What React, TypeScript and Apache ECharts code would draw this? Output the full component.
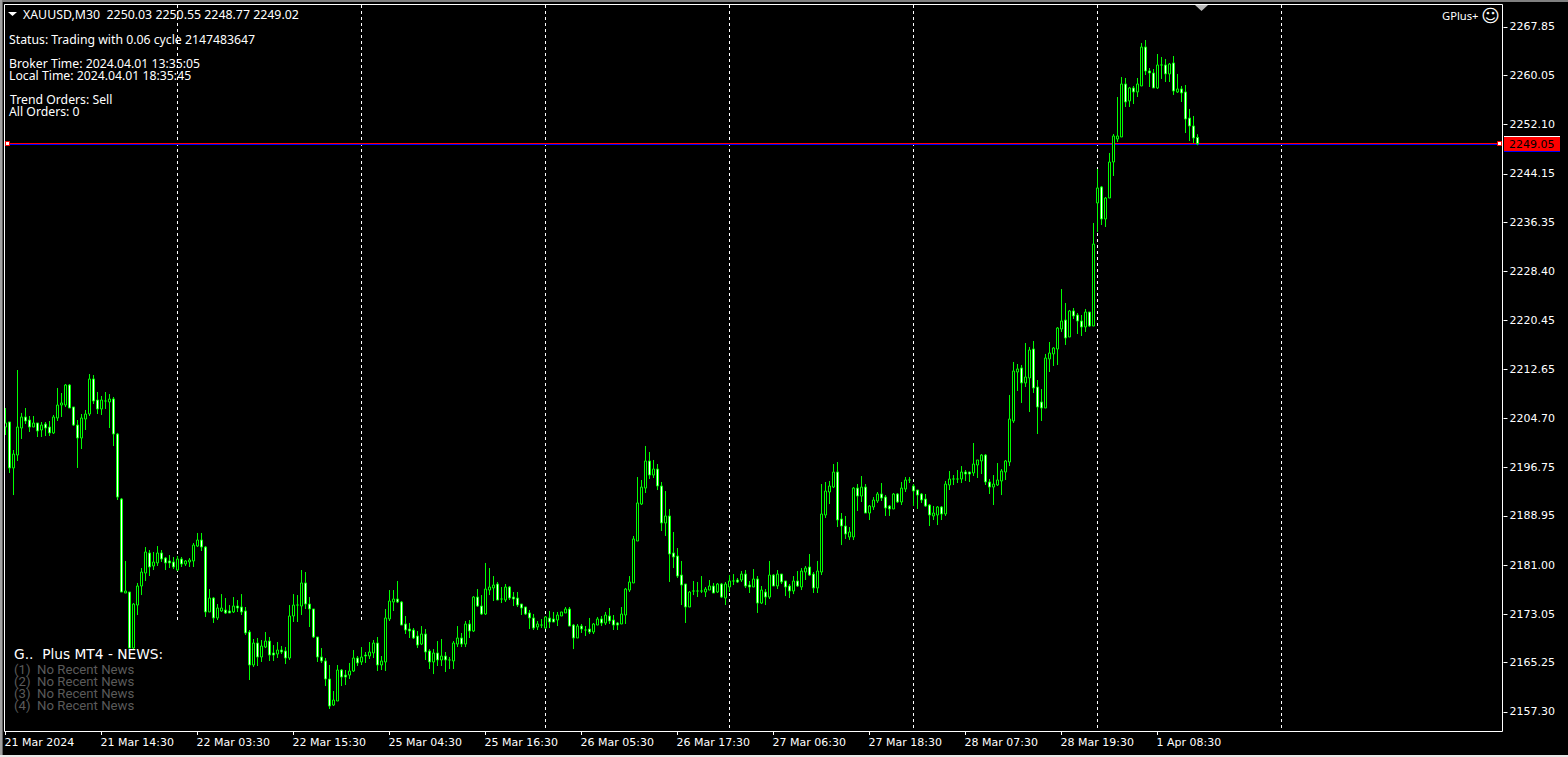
import React, { useEffect, useRef } from "react";
import * as echarts from "echarts";

const timeLabels = ["21 Mar 2024","21 Mar 14:30","22 Mar 03:30","22 Mar 15:30","25 Mar 04:30","25 Mar 16:30","26 Mar 05:30","26 Mar 17:30","27 Mar 06:30","27 Mar 18:30","28 Mar 07:30","28 Mar 19:30","1 Apr 08:30"];
const priceTicks = [2267.85,2260.05,2252.10,2244.15,2236.35,2228.40,2220.45,2212.65,2204.70,2196.75,2188.95,2181.00,2173.05,2165.25,2157.30];
const separatorBars = [43,89,135,181,227,273,319];
const shortSeparatorBars = [43,89];
const bidPrice = 2249.05;
const linePrice = 2248.89;
const newsLines = ["(1)  No Recent News","(2)  No Recent News","(3)  No Recent News","(4)  No Recent News"];
const infoLines = [
  { t: "Status: Trading with 0.06 cycle 2147483647", x: 9, y: 39 },
  { t: "Broker Time: 2024.04.01 13:35:05", x: 9, y: 63 },
  { t: "Local Time: 2024.04.01 18:35:45", x: 9, y: 75 },
  { t: "Trend Orders: Sell", x: 10, y: 99 },
  { t: "All Orders: 0", x: 9, y: 111 },
];

// [open, close, low, high]
const candles = [
[2203.29,2203.94,2202.00,2206.36],[2204.10,2196.68,2195.87,2204.10],[2196.68,2198.93,2192.31,2199.58],[2198.77,2203.29,2197.81,2212.49],[2203.13,2204.91,2201.36,2205.56],[2204.91,2204.26,2203.77,2206.36],[2204.42,2203.29,2202.49,2205.07],[2203.29,2203.94,2203.29,2205.07],[2203.94,2202.65,2201.68,2203.94],[2202.81,2203.61,2201.68,2204.10],
[2203.77,2203.13,2201.84,2204.10],[2203.29,2202.33,2201.84,2204.26],[2202.33,2204.91,2202.16,2205.23],[2204.75,2206.84,2204.26,2209.59],[2206.84,2207.17,2204.91,2208.78],[2206.84,2210.07,2206.52,2210.23],[2210.07,2206.36,2206.36,2210.23],[2206.52,2203.61,2203.45,2206.52],[2203.61,2201.52,2196.68,2204.42],[2201.52,2204.75,2199.74,2205.39],
[2204.58,2205.39,2202.81,2206.04],[2205.39,2211.04,2205.07,2211.84],[2211.04,2207.49,2207.00,2211.68],[2207.65,2206.20,2205.39,2208.94],[2206.20,2207.65,2205.23,2208.30],[2207.49,2207.49,2206.20,2208.94],[2207.33,2207.81,2203.13,2208.61],[2207.81,2202.16,2200.22,2208.13],[2202.16,2191.99,2191.51,2202.33],[2191.67,2176.66,2176.66,2191.83],
[2176.50,2176.82,2176.50,2181.67],[2176.66,2167.62,2167.62,2176.66],[2167.62,2174.72,2167.30,2174.88],[2174.56,2177.63,2172.95,2178.12],[2177.63,2179.89,2176.17,2180.53],[2179.73,2183.12,2178.44,2183.92],[2182.96,2180.70,2179.24,2183.44],[2180.86,2181.51,2180.21,2183.12],[2181.35,2182.96,2180.86,2184.08],[2182.96,2181.99,2181.51,2183.44],
[2182.15,2181.35,2180.21,2182.31],[2181.67,2181.35,2180.53,2182.63],[2181.51,2180.70,2180.37,2182.31],[2180.21,2181.99,2180.05,2182.47],[2181.99,2181.18,2180.70,2182.31],[2181.18,2181.67,2180.86,2181.83],[2181.51,2181.83,2180.70,2182.15],[2181.67,2184.24,2180.70,2184.57],[2184.08,2185.05,2183.92,2186.19],[2185.05,2183.92,2183.28,2186.19],
[2183.92,2173.44,2172.63,2184.08],[2173.44,2175.69,2173.44,2177.14],[2175.69,2172.47,2171.66,2175.85],[2172.47,2174.08,2172.14,2174.72],[2173.60,2174.08,2173.44,2176.33],[2173.76,2173.28,2173.11,2175.69],[2173.60,2173.28,2173.28,2174.56],[2173.44,2174.40,2173.28,2175.85],[2174.40,2174.08,2173.44,2175.37],[2174.24,2173.44,2172.95,2176.33],
[2173.60,2170.05,2169.72,2174.24],[2170.21,2164.88,2162.46,2170.53],[2164.88,2168.43,2164.56,2169.08],[2168.43,2166.17,2164.72,2169.24],[2166.17,2167.95,2165.37,2168.91],[2167.78,2168.75,2167.62,2170.21],[2168.75,2166.49,2165.53,2169.40],[2166.82,2166.49,2165.53,2168.10],[2166.65,2167.30,2166.01,2168.59],[2167.30,2166.98,2166.65,2167.95],
[2167.14,2166.01,2165.04,2167.78],[2166.01,2172.79,2165.69,2174.56],[2172.79,2174.56,2171.82,2176.33],[2174.56,2174.56,2171.82,2176.17],[2174.40,2178.12,2172.95,2180.21],[2178.12,2174.72,2173.92,2179.89],[2174.72,2173.92,2171.01,2175.85],[2173.92,2169.40,2169.24,2173.92],[2169.40,2166.17,2165.37,2169.40],[2166.17,2165.53,2165.21,2167.62],
[2165.53,2162.62,2161.49,2166.01],[2162.62,2158.26,2157.78,2164.88],[2158.42,2159.23,2158.26,2160.68],[2159.07,2164.07,2159.07,2164.88],[2164.07,2162.94,2161.49,2164.23],[2163.26,2162.94,2161.65,2164.07],[2163.26,2163.91,2162.62,2165.21],[2163.91,2166.01,2163.75,2167.30],[2166.01,2165.21,2164.72,2166.33],[2165.37,2166.17,2164.88,2167.78],
[2166.49,2166.33,2165.21,2166.98],[2166.33,2166.98,2165.85,2168.59],[2166.82,2168.43,2166.01,2168.91],[2168.43,2164.88,2163.91,2169.40],[2164.88,2165.53,2164.07,2166.33],[2165.37,2172.47,2163.91,2173.92],[2172.31,2175.21,2171.98,2176.98],[2175.05,2175.53,2173.60,2176.98],[2175.53,2175.05,2174.88,2178.44],[2175.05,2171.33,2171.33,2175.21],
[2171.50,2170.53,2169.88,2172.79],[2170.69,2170.37,2169.24,2171.66],[2170.53,2169.24,2169.08,2170.85],[2169.56,2168.10,2167.62,2170.37],[2168.26,2169.88,2168.10,2171.17],[2169.88,2166.98,2165.69,2170.69],[2167.14,2165.37,2164.23,2167.45],[2165.37,2166.82,2163.42,2167.45],[2166.82,2165.69,2164.72,2168.75],[2165.69,2166.33,2164.72,2169.08],
[2166.33,2165.69,2163.75,2166.98],[2165.69,2165.69,2164.23,2166.17],[2165.53,2168.43,2164.23,2168.75],[2168.26,2169.24,2167.78,2171.17],[2169.24,2168.26,2167.78,2170.05],[2168.26,2171.50,2167.78,2171.98],[2171.50,2170.37,2169.24,2172.14],[2170.37,2175.85,2170.21,2176.01],[2175.85,2174.40,2174.24,2177.14],[2174.40,2173.11,2172.95,2176.17],
[2173.11,2177.14,2172.95,2181.35],[2176.98,2177.47,2176.17,2180.53],[2177.31,2177.79,2175.21,2179.24],[2177.95,2175.37,2175.37,2178.28],[2175.53,2175.53,2174.88,2177.47],[2175.37,2177.47,2175.05,2177.95],[2177.47,2175.69,2175.37,2177.63],[2175.85,2175.53,2174.40,2176.66],[2175.69,2174.56,2174.24,2176.66],[2174.72,2174.08,2172.95,2174.72],
[2174.24,2173.11,2172.95,2174.24],[2173.28,2172.47,2170.69,2173.76],[2172.47,2170.85,2170.53,2173.11],[2171.01,2171.50,2170.53,2171.98],[2171.33,2171.33,2170.85,2172.31],[2170.85,2172.63,2170.69,2172.79],[2172.47,2171.82,2170.85,2173.60],[2172.31,2171.82,2171.82,2173.44],[2172.14,2172.95,2171.17,2173.44],[2172.79,2173.44,2172.79,2173.44],
[2173.28,2173.92,2173.28,2174.24],[2173.92,2171.17,2171.17,2174.24],[2171.33,2169.24,2167.45,2171.50],[2169.24,2171.17,2169.24,2171.50],[2171.17,2170.69,2170.05,2171.50],[2170.53,2170.53,2169.56,2171.17],[2170.69,2170.21,2169.88,2172.47],[2170.21,2171.50,2169.88,2171.66],[2171.33,2172.31,2171.33,2172.63],[2172.31,2171.66,2171.17,2172.79],
[2171.66,2172.95,2171.33,2173.44],[2172.79,2171.98,2171.50,2174.08],[2172.14,2171.33,2170.53,2172.95],[2171.66,2171.33,2170.53,2171.82],[2171.50,2173.11,2171.50,2174.24],[2172.95,2177.14,2171.50,2177.31],[2176.98,2178.28,2176.66,2179.24],[2178.12,2185.22,2178.12,2185.70],[2184.89,2191.03,2184.89,2195.22],[2190.86,2193.60,2190.70,2194.74],
[2193.44,2197.81,2192.64,2200.23],[2197.81,2195.54,2194.90,2199.26],[2195.54,2196.51,2195.06,2197.97],[2196.51,2193.77,2193.12,2197.32],[2193.77,2187.80,2186.51,2194.42],[2187.80,2188.93,2185.70,2192.96],[2188.93,2182.79,2178.28,2190.06],[2182.96,2182.31,2180.53,2186.35],[2182.47,2179.24,2178.92,2183.76],[2179.40,2177.79,2174.56,2181.67],
[2177.95,2174.24,2171.66,2177.95],[2174.24,2176.66,2174.24,2176.82],[2176.82,2176.82,2176.17,2178.44],[2176.82,2176.82,2175.85,2178.28],[2176.82,2176.82,2176.50,2179.24],[2176.66,2177.14,2175.85,2177.47],[2176.98,2177.63,2176.98,2178.60],[2177.63,2176.50,2176.50,2178.12],[2176.66,2177.95,2176.50,2178.12],[2177.95,2175.85,2175.69,2178.12],
[2175.69,2177.95,2174.56,2178.28],[2177.47,2178.44,2176.66,2179.40],[2178.44,2178.44,2177.79,2179.56],[2178.60,2178.28,2178.12,2178.92],[2178.60,2179.56,2178.28,2180.05],[2179.56,2177.63,2177.31,2180.21],[2177.79,2177.47,2176.50,2178.44],[2177.47,2178.76,2177.47,2180.37],[2178.76,2174.88,2173.28,2179.24],[2174.88,2176.98,2174.72,2177.63],
[2176.66,2175.85,2174.56,2177.14],[2175.85,2179.40,2175.53,2181.67],[2179.40,2177.63,2177.63,2179.56],[2177.63,2179.56,2177.14,2180.21],[2179.56,2178.28,2177.95,2179.56],[2178.44,2177.47,2176.01,2178.44],[2177.63,2176.82,2175.69,2177.95],[2176.82,2178.44,2176.33,2179.24],[2178.44,2177.63,2177.47,2180.05],[2177.47,2180.05,2176.98,2180.53],
[2179.89,2180.53,2178.60,2180.86],[2180.70,2179.40,2179.24,2182.79],[2179.56,2177.31,2176.50,2179.89],[2177.31,2180.05,2176.50,2181.67],[2179.89,2189.25,2179.40,2194.09],[2189.09,2192.96,2188.61,2194.42],[2192.80,2193.77,2190.86,2194.58],[2193.60,2196.03,2193.44,2197.32],[2196.03,2188.28,2187.15,2197.64],[2188.44,2187.31,2184.24,2189.41],
[2187.31,2186.02,2185.22,2188.93],[2185.54,2186.35,2185.05,2187.15],[2185.54,2193.44,2185.05,2193.60],[2193.44,2192.15,2189.73,2194.09],[2192.15,2193.60,2191.19,2195.38],[2193.60,2189.41,2189.41,2194.09],[2189.41,2190.54,2188.28,2190.70],[2190.38,2191.51,2189.90,2191.99],[2191.35,2192.48,2191.03,2192.80],[2192.48,2191.83,2191.35,2194.25],
[2191.99,2190.22,2188.93,2192.31],[2190.54,2190.06,2188.93,2190.70],[2190.06,2192.48,2190.06,2192.64],[2192.48,2191.19,2191.03,2192.64],[2191.19,2193.44,2190.70,2194.42],[2193.28,2194.74,2192.80,2195.22],[2194.74,2194.74,2194.25,2195.22],[2193.77,2192.96,2190.54,2194.09],[2193.12,2192.31,2190.06,2193.12],[2192.48,2191.51,2191.03,2192.64],
[2191.67,2190.54,2190.38,2192.48],[2190.70,2189.09,2187.31,2190.86],[2188.93,2189.41,2188.28,2190.54],[2189.09,2190.38,2187.47,2190.54],[2190.38,2189.25,2188.28,2190.54],[2189.25,2194.09,2188.93,2194.58],[2193.93,2194.90,2193.12,2196.19],[2194.90,2194.90,2193.93,2195.54],[2194.90,2194.90,2194.25,2196.35],[2194.90,2196.03,2194.25,2196.99],
[2196.03,2195.70,2194.58,2196.35],[2196.03,2195.70,2194.42,2196.03],[2195.87,2197.32,2195.38,2200.71],[2197.16,2197.97,2195.06,2197.97],[2197.81,2198.77,2195.70,2198.93],[2198.77,2194.42,2193.93,2198.93],[2194.42,2193.60,2192.48,2194.90],[2193.60,2194.09,2190.70,2195.54],[2193.93,2194.74,2193.77,2197.48],[2194.58,2196.19,2192.31,2196.51],
[2196.03,2197.81,2194.74,2197.97],[2197.64,2204.58,2196.99,2208.46],[2204.26,2212.33,2203.94,2213.79],[2212.17,2212.66,2209.10,2213.46],[2212.82,2210.40,2207.17,2213.30],[2210.40,2211.36,2209.75,2216.85],[2211.20,2215.72,2205.71,2216.20],[2215.88,2209.59,2208.78,2217.17],[2209.75,2206.52,2202.16,2210.88],[2207.33,2206.36,2204.26,2209.42],
[2206.36,2214.43,2206.36,2215.08],[2214.27,2215.24,2212.17,2217.01],[2215.08,2216.04,2213.14,2216.20],[2215.88,2219.27,2213.30,2219.43],[2219.11,2220.40,2218.63,2225.56],[2220.56,2217.66,2216.53,2223.31],[2217.82,2222.02,2217.82,2222.18],[2222.02,2221.21,2220.72,2222.50],[2221.37,2220.40,2218.30,2221.69],[2220.40,2219.43,2217.98,2221.37],
[2219.43,2221.85,2218.63,2222.34],[2221.85,2219.59,2219.43,2221.85],[2219.59,2232.82,2219.59,2236.22],[2239.45,2241.87,2234.77,2244.93],[2242.03,2236.86,2235.89,2242.19],[2236.86,2240.25,2235.57,2240.41],[2240.25,2246.06,2240.25,2247.52],[2246.06,2250.26,2243.80,2250.58],[2249.77,2250.26,2249.29,2256.55],[2250.10,2258.65,2250.10,2259.78],
[2258.65,2255.75,2254.94,2259.62],[2255.91,2258.01,2254.94,2258.17],[2258.01,2257.36,2255.42,2258.33],[2257.36,2258.65,2256.55,2259.62],[2258.33,2264.62,2258.33,2265.27],[2264.62,2260.75,2260.10,2265.75],[2260.75,2260.43,2258.17,2261.23],[2260.43,2258.01,2258.01,2261.07],[2258.01,2261.72,2257.85,2263.49],[2261.72,2261.72,2259.46,2263.01],
[2261.72,2260.27,2258.97,2262.69],[2260.27,2261.88,2258.97,2262.04],[2262.04,2257.52,2256.88,2263.17],[2257.36,2257.85,2257.20,2260.27],[2257.85,2257.20,2255.75,2258.33],[2257.36,2253.00,2250.74,2258.49],[2253.16,2251.87,2249.45,2254.62],[2251.87,2249.94,2249.13,2253.49],[2250.03,2249.02,2248.77,2250.55],
];

const BAR_SLOTS = 375;
const LABEL_EVERY = 24;
const categories = Array.from({ length: BAR_SLOTS }, (_, i) =>
  i % LABEL_EVERY === 0 && i / LABEL_EVERY < timeLabels.length ? timeLabels[i / LABEL_EVERY] : ""
);

const WHITE = "#ffffff";
const UI_FONT = "12.25px 'Noto Sans'";
const AXIS_FONT = "DejaVu Sans";

export default function App() {
  const ref = useRef<HTMLDivElement>(null);
  useEffect(() => {
    document.body.style.margin = "0";
    document.body.style.background = "#000";
    const chart = echarts.init(ref.current!, undefined, { renderer: "svg" });
    const txt = (text: string, x: number, y: number, fill = WHITE, font = UI_FONT) => ({
      type: "text", x, y, silent: true, z: 70,
      style: { text, fill, font, verticalAlign: "middle", align: "left", lineHeight: 11 },
    });
    const edge = (x: number, y: number, width: number, height: number, fill: string) => ({
      type: "rect", silent: true, z: 60, shape: { x, y, width, height }, style: { fill },
    });
    chart.setOption({
      animation: false,
      backgroundColor: "#000000",
      grid: { left: 3.5, top: 5, width: 1500, height: 726, containLabel: false },
      xAxis: {
        type: "category",
        data: categories,
        boundaryGap: true,
        axisLine: { show: false },
        axisTick: {
          show: true, alignWithLabel: true, length: 4,
          lineStyle: { color: WHITE },
          interval: (i: number) => i % LABEL_EVERY === 0 && i / LABEL_EVERY < timeLabels.length,
        },
        axisLabel: {
          color: WHITE, fontFamily: AXIS_FONT, fontSize: 11, align: "left", margin: 6,
          padding: [0, 0, 0, -1],
          interval: (i: number) => i % LABEL_EVERY === 0 && i / LABEL_EVERY < timeLabels.length,
          showMinLabel: true, hideOverlap: false,
        },
        splitLine: { show: false },
      },
      yAxis: {
        type: "value",
        position: "right",
        min: 2154.23,
        max: 2271.4,
        scale: true,
        axisLine: { show: false },
        axisTick: { show: true, length: 4, lineStyle: { color: WHITE }, customValues: priceTicks },
        axisLabel: {
          color: WHITE, fontFamily: AXIS_FONT, fontSize: 11, margin: 6,
          customValues: priceTicks,
          formatter: (v: number) => v.toFixed(2),
        },
        splitLine: { show: false },
      },
      series: [
        {
          type: "candlestick",
          data: candles,
          barWidth: 3,
          itemStyle: { color: "#000000", color0: "#ffffff", borderColor: "#00ff00", borderColor0: "#00ff00", borderWidth: 1 },
          z: 3,
          markLine: {
            silent: true, symbol: "none", animation: false, label: { show: false },
            precision: 2, z: 1,
            data: [
              ...separatorBars.map((b) => [
                { xAxis: b, yAxis: 2271.4, lineStyle: { color: WHITE, type: [3, 3], width: 1 } },
                { xAxis: b, yAxis: shortSeparatorBars.includes(b) ? 2171.8 : 2154.23 },
              ]),
              [{ x: 4, yAxis: bidPrice, lineStyle: { color: "#ff0000", type: "solid", width: 1 } }, { x: 1502, yAxis: bidPrice }],
              [{ x: 4, yAxis: linePrice, lineStyle: { color: "#0000ff", type: "solid", width: 1 } }, { x: 1502, yAxis: linePrice }],
            ],
          },
        },
      ],
      graphic: [
        edge(0, 0, 1568, 2, "#808080"),
        edge(0, 0, 2, 757, "#a0a0a0"),
        edge(2, 2, 1, 753, "#606060"),
        edge(0, 755, 1568, 2, "#e8e8e8"),
        { type: "rect", silent: true, z: 40, shape: { x: 4.5, y: 4.5, width: 1498, height: 727 }, style: { fill: "none", stroke: WHITE, lineWidth: 1 } },
        { type: "rect", silent: true, z: 60, shape: { x: 5.5, y: 141.5, width: 4, height: 4 }, style: { fill: WHITE, stroke: "#ff0000", lineWidth: 1 } },
        { type: "rect", silent: true, z: 60, shape: { x: 1497.5, y: 141.5, width: 4, height: 4 }, style: { fill: WHITE, stroke: "#ff0000", lineWidth: 1 } },
        { type: "polygon", silent: true, z: 60, shape: { points: [[8, 12], [17, 12], [12.5, 16]] }, style: { fill: WHITE } },
        { type: "polygon", silent: true, z: 60, shape: { points: [[1195, 5], [1208, 5], [1201.5, 11]] }, style: { fill: "#b8b8b8" } },
        edge(1504, 136, 56, 1, WHITE),
        edge(1504, 137, 56, 14, "#ff0000"),
        edge(1504, 151, 56, 1, "#0000ff"),
        txt(bidPrice.toFixed(2), 1509, 144, "#000000", `11px ${AXIS_FONT}`),
        txt("XAUUSD,M30  2250.03 2250.55 2248.77 2249.02", 23, 14, WHITE, "12.35px 'Noto Sans'"),
        ...infoLines.map((l) => txt(l.t, l.x, l.y)),
        txt("GPlus+", 1442, 15, WHITE, "11.2px 'Noto Sans'"),
        txt("☺", 1481, 15, WHITE, `18px ${AXIS_FONT}`),
        txt("G..  Plus MT4 - NEWS:", 14, 654, WHITE, `13.75px ${AXIS_FONT}`),
        ...newsLines.map((l, i) => txt(l, 14, 669 + i * 12, "#5a5a5a", "13.2px Roboto")),
      ],
    });
    return () => chart.dispose();
  }, []);
  return <div ref={ref} style={{ width: 1568, height: 757 }} />;
}
